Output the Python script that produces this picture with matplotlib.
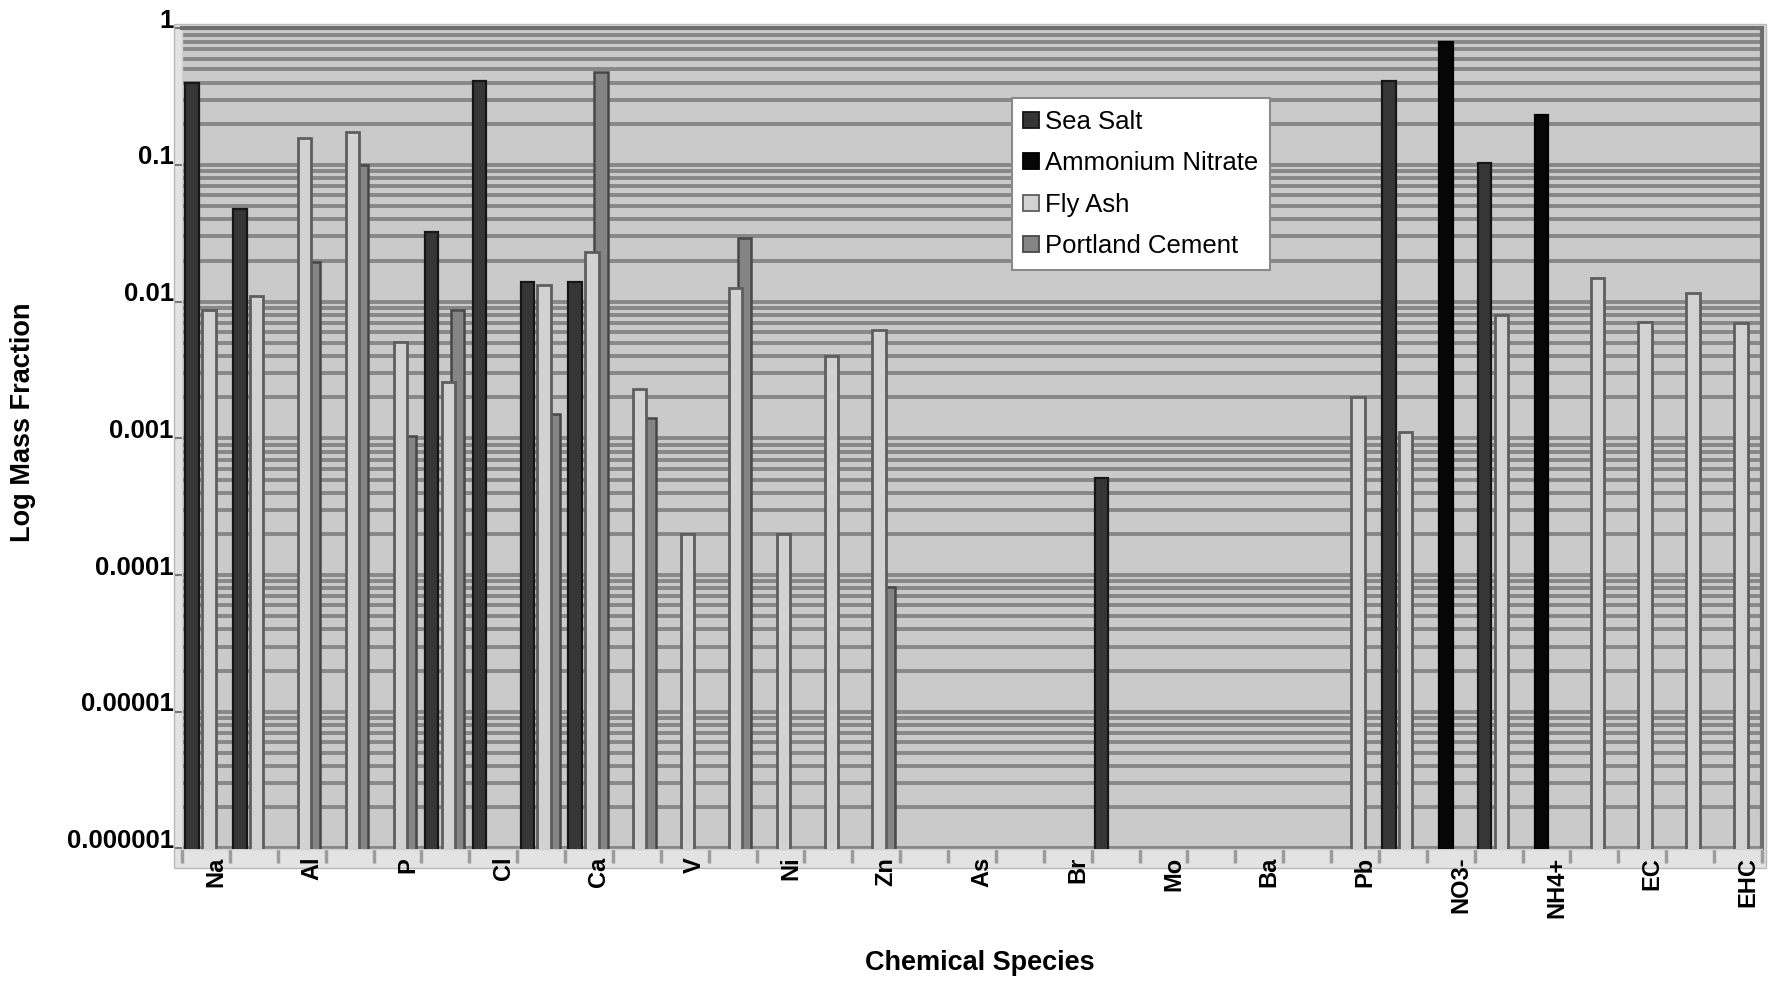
import numpy as np
import matplotlib
matplotlib.use('Agg')
import matplotlib.pyplot as plt
import matplotlib.transforms as mtransforms
from matplotlib.patches import Patch, Rectangle
from matplotlib.ticker import LogLocator, NullFormatter

plt.rcParams['font.family'] = ['Liberation Sans', 'DejaVu Sans']

# species on the x axis (only every other one carries a label)
species = ['Na', '', 'Al', '', 'P', '', 'Cl', '', 'Ca', '', 'V', '', 'Ni', '',
           'Zn', '', 'As', '', 'Br', '', 'Mo', '', 'Ba', '', 'Pb', '', 'NO3-',
           '', 'NH4+', '', 'EC', '', 'EHC']

nan = np.nan
# mass fractions per source profile
sea_salt = [0.40, 0.048, nan, nan, nan, 0.0325, 0.41, 0.014, 0.014, nan,
            nan, nan, nan, nan, nan, nan, nan, nan, nan, 0.00051,
            nan, nan, nan, nan, nan, 0.41, nan, 0.103, nan, nan,
            nan, nan, nan]
ammonium_nitrate = [nan, nan, nan, nan, nan, nan, nan, nan, nan, nan,
                    nan, nan, nan, nan, nan, nan, nan, nan, nan, nan,
                    nan, nan, nan, nan, nan, nan, 0.80, nan, 0.232, nan,
                    nan, nan, nan]
fly_ash = [0.0087, 0.011, 0.157, 0.175, 0.0051, 0.0026, nan, 0.0133, 0.023, 0.0023,
           0.0002, 0.0125, 0.0002, 0.0040, 0.0062, nan, nan, nan, nan, nan,
           nan, nan, nan, nan, 0.0020, 0.00112, nan, 0.0080, nan, 0.0148,
           0.0071, 0.0115, 0.0070]
portland_cement = [nan, nan, 0.0196, 0.10, 0.00104, 0.0087, nan, 0.0015, 0.48, 0.0014,
                   nan, 0.029, nan, nan, 0.000082, nan, nan, nan, nan, nan,
                   nan, nan, nan, nan, nan, nan, nan, nan, nan, nan,
                   nan, nan, nan]

ytick_values = [1e-6, 1e-5, 1e-4, 1e-3, 1e-2, 1e-1, 1]
ytick_labels = ['0.000001', '0.00001', '0.0001', '0.001', '0.01', '0.1', '1']

# name, values, fill, edge, edge width, offset inside the group, drawing order
series = [
    ('Sea Salt', sea_salt, '#363636', '#161616', 1.6, -0.29, 6),
    ('Ammonium Nitrate', ammonium_nitrate, '#060606', '#000000', 1.6, -0.10, 5),
    ('Fly Ash', fly_ash, '#d2d2d2', '#5e5e5e', 2.0, 0.06, 4),
    ('Portland Cement', portland_cement, '#858585', '#474747', 1.8, 0.25, 3),
]
bar_w = 0.28

W, H = 1776, 984
fig = plt.figure(figsize=(W / 100, H / 100), dpi=100)

# light frame around the plot area
fig.patches.append(Rectangle((174 / W, 1 - 868 / H), (1766 - 174) / W, (868 - 24) / H,
                             transform=fig.transFigure, facecolor='#e3e3e3',
                             edgecolor='#b8b8b8', lw=1, zorder=-5))

ax = fig.add_axes([182 / W, 1 - 848.5 / H, (1762 - 182) / W, (848.5 - 28.3) / H])
ax.set_facecolor('#cacaca')
ax.set_yscale('log')
ax.set_ylim(1e-6, 1)
ax.set_xlim(-0.5, len(species) - 0.5)

x = np.arange(len(species))
for name, vals, fc, ec, lw, off, z in series:
    vals = np.asarray(vals, dtype=float)
    ok = ~np.isnan(vals)
    ax.bar(x[ok] + off, vals[ok], width=bar_w, color=fc, edgecolor=ec,
           linewidth=lw, zorder=z)

# gridlines on every log step
ax.yaxis.set_minor_locator(LogLocator(base=10, subs=np.arange(2, 10), numticks=20))
ax.yaxis.set_minor_formatter(NullFormatter())
ax.grid(True, which='both', axis='y', color='#878787', linewidth=2.8)
ax.set_axisbelow(True)

ax.set_yticks(ytick_values)
ax.set_yticklabels(ytick_labels, fontsize=18.5, fontweight='bold')
ax.tick_params(axis='y', which='major', length=5, width=1.5, color='#777777', pad=1)
ax.tick_params(axis='y', which='minor', length=0)

ax.set_xticks(x)
ax.set_xticklabels(species, rotation=90, fontsize=17, fontweight='bold')
ax.set_xticks(np.arange(-0.5, len(species)), minor=True)
ax.tick_params(axis='x', which='major', length=0, pad=6)
ax.tick_params(axis='x', which='minor', length=10, width=2.5, color='#9c9c9c')

for lbl in ax.get_xticklabels():
    lbl.set_transform(lbl.get_transform() +
                      mtransforms.ScaledTranslation(0.10, 0, fig.dpi_scale_trans))
for lbl in ax.get_yticklabels():
    lbl.set_transform(lbl.get_transform() +
                      mtransforms.ScaledTranslation(0, 0.10, fig.dpi_scale_trans))

for side in ['top', 'right']:
    ax.spines[side].set_color('#6e6e6e')
    ax.spines[side].set_linewidth(3)
for side in ['left', 'bottom']:
    ax.spines[side].set_color('#d0d0d0')
    ax.spines[side].set_linewidth(1)

handles = [Patch(facecolor=fc, edgecolor=ec, linewidth=1.3) for _, _, fc, ec, _, _, _ in series]
labels = [s[0] for s in series]
leg = ax.legend(handles, labels, loc='upper left',
                bbox_to_anchor=(1011.7 / W, 1 - 98.3 / H), bbox_transform=fig.transFigure,
                fontsize=18.5, frameon=True, fancybox=False, framealpha=1,
                facecolor='white', edgecolor='#8a8a8a', handlelength=0.6,
                handleheight=0.6, handletextpad=0.25, labelspacing=0.68,
                borderpad=0.45, borderaxespad=0)
leg.get_frame().set_linewidth(1.5)
leg.set_zorder(10)

fig.text(22.6 / W, 1 - 422.5 / H, 'Log Mass Fraction', rotation=90, ha='center',
         va='center', fontsize=19.5, fontweight='bold')
fig.text(980 / W, 1 - 963 / H, 'Chemical Species', ha='center', va='center',
         fontsize=19.5, fontweight='bold')

fig.savefig('out.png', dpi=100)
